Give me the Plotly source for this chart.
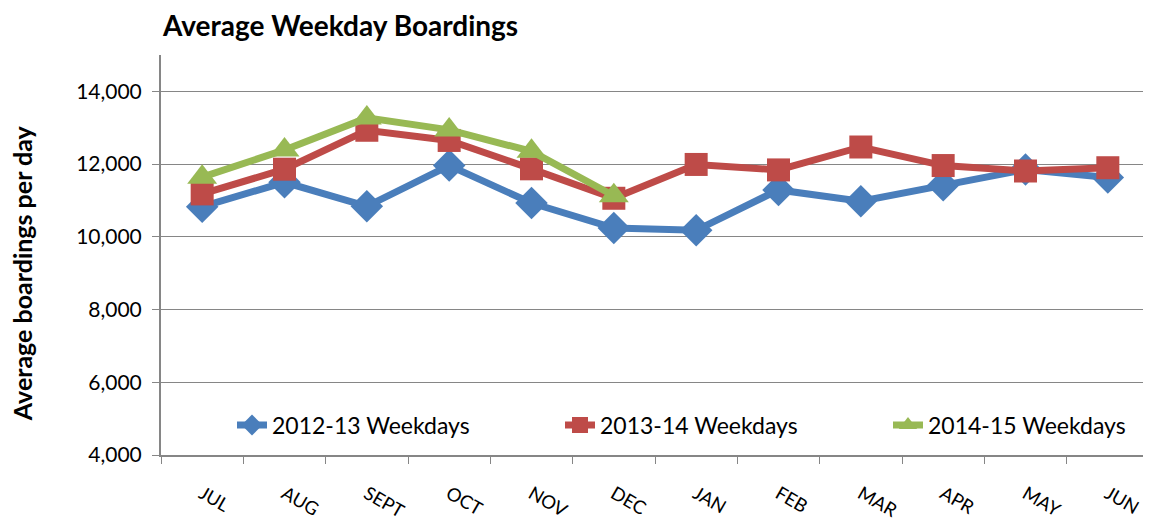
import plotly.graph_objects as go

months = ["JUL", "AUG", "SEPT", "OCT", "NOV", "DEC", "JAN", "FEB", "MAR", "APR", "MAY", "JUN"]
s2012_13 = [10830, 11500, 10840, 11960, 10930, 10240, 10180, 11290, 10980, 11420, 11850, 11630]
s2013_14 = [11180, 11860, 12930, 12650, 11870, 11060, 11990, 11840, 12470, 11960, 11810, 11900]
s2014_15 = [11640, 12390, 13270, 12940, 12350, 11130]
y_ticks = [4000, 6000, 8000, 10000, 12000, 14000]

FONT = "Lato, Carlito, 'Open Sans', sans-serif"

# page body has an 8px default margin, so size the figure to fit the window
W, H = 1143, 515
L, T, B = 153, 47, 68

fig = go.Figure()
fig.add_trace(go.Scatter(
    x=months, y=s2012_13, name="2012-13 Weekdays", mode="lines+markers",
    line=dict(color="#4a7ebb", width=7),
    marker=dict(symbol="diamond", size=25, color="#4a7ebb")))
fig.add_trace(go.Scatter(
    x=months, y=s2013_14, name="2013-14 Weekdays", mode="lines+markers",
    line=dict(color="#be4b48", width=7),
    marker=dict(symbol="square", size=23, color="#be4b48")))
fig.add_trace(go.Scatter(
    x=months[:len(s2014_15)], y=s2014_15, name="2014-15 Weekdays", mode="lines+markers",
    line=dict(color="#98b954", width=7),
    marker=dict(symbol="triangle-up", size=26, color="#98b954")))

fig.update_layout(
    width=W, height=H,
    margin=dict(l=L, r=2, t=T, b=B, autoexpand=False),
    paper_bgcolor="white", plot_bgcolor="white",
    font=dict(family=FONT, size=21, color="black"),
    title=dict(text="<b>Average Weekday Boardings</b>", x=(163 - 8) / W, xanchor="left",
               y=1 - 18 / H, yanchor="middle", font=dict(size=28, family=FONT)),
    showlegend=True,
    legend=dict(orientation="h", x=(232 - 161) / 988, xanchor="left",
                y=(455 - 425) / 400.5, yanchor="middle",
                bgcolor="rgba(0,0,0,0)", font=dict(size=23, family=FONT),
                entrywidth=283, entrywidthmode="pixels", itemsizing="trace"),
    xaxis=dict(type="category", range=[-0.5, 11.5], showgrid=False,
               showline=True, linecolor="#868686", linewidth=2,
               ticks="outside", tickson="boundaries", ticklen=7, tickcolor="#868686",
               tickwidth=1, tickangle=30, ticklabelstandoff=19,
               tickfont=dict(size=18.5), automargin=False),
    yaxis=dict(range=[4000, 15000], tickvals=y_ticks, tickformat=",d",
               showgrid=True, gridcolor="#868686", gridwidth=1,
               showline=True, linecolor="#868686", linewidth=2,
               ticks="outside", ticklen=7, tickcolor="#868686",
               ticklabelstandoff=6, zeroline=False, automargin=False),
    annotations=[dict(text="<b>Average boardings per day</b>", textangle=-90,
                      xref="paper", yref="paper",
                      x=(22 - 161) / 988, y=(455 - 273) / 400.5,
                      xanchor="center", yanchor="middle", showarrow=False,
                      font=dict(size=25, family=FONT))],
)

fig.write_html("out.html")
